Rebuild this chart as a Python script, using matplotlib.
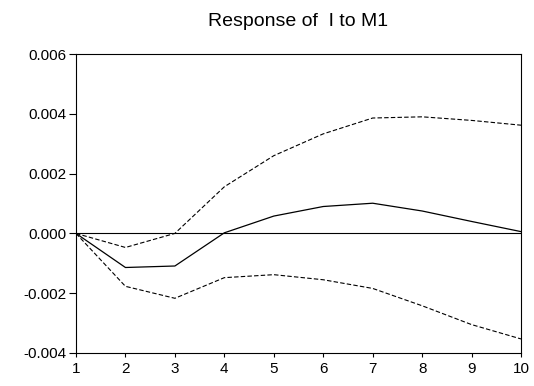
import numpy as np
import matplotlib.pyplot as plt

plt.rcParams['font.family'] = ['Liberation Sans', 'DejaVu Sans']

## DATA
periods = [1, 2, 3, 4, 5, 6, 7, 8, 9, 10]
response = [0.0, -0.00114, -0.00109, 0.00002, 0.00058, 0.00090, 0.00101, 0.00075, 0.00040, 0.00006]
upper = [0.0, -0.00047, 0.0, 0.00156, 0.00260, 0.00333, 0.00386, 0.00390, 0.00378, 0.00362]
lower = [0.0, -0.00177, -0.00217, -0.00148, -0.00138, -0.00155, -0.00184, -0.00242, -0.00305, -0.00353]
yticks = [-0.004, -0.002, 0.000, 0.002, 0.004, 0.006]

fig = plt.figure(figsize=(5.34, 3.86), dpi=100)
ax = fig.add_axes([0.1423, 0.0855, 0.8334, 0.7745])

# zero line, then the response and its +/- 2 s.e. bands
ax.axhline(0, color='black', lw=0.8)
ax.plot(periods, response, color='black', lw=0.9)
ax.plot(periods, upper, color='black', lw=0.8, dashes=(4, 2))
ax.plot(periods, lower, color='black', lw=0.8, dashes=(4, 2))

ax.set_xlim(1, 10)
ax.set_ylim(-0.004, 0.006)
ax.set_xticks(periods)
ax.set_yticks(yticks)
ax.set_yticklabels(['%.3f' % v for v in yticks])
ax.tick_params(direction='out', width=0.8, labelsize=11)
ax.tick_params(axis='x', length=3, pad=3.5)
ax.tick_params(axis='y', length=5, pad=1.5)

for s in ax.spines.values():
    s.set_linewidth(0.8)

ax.set_title("Response of  I to M1", fontsize=14, pad=20)

fig.savefig('out.png', dpi=100)
